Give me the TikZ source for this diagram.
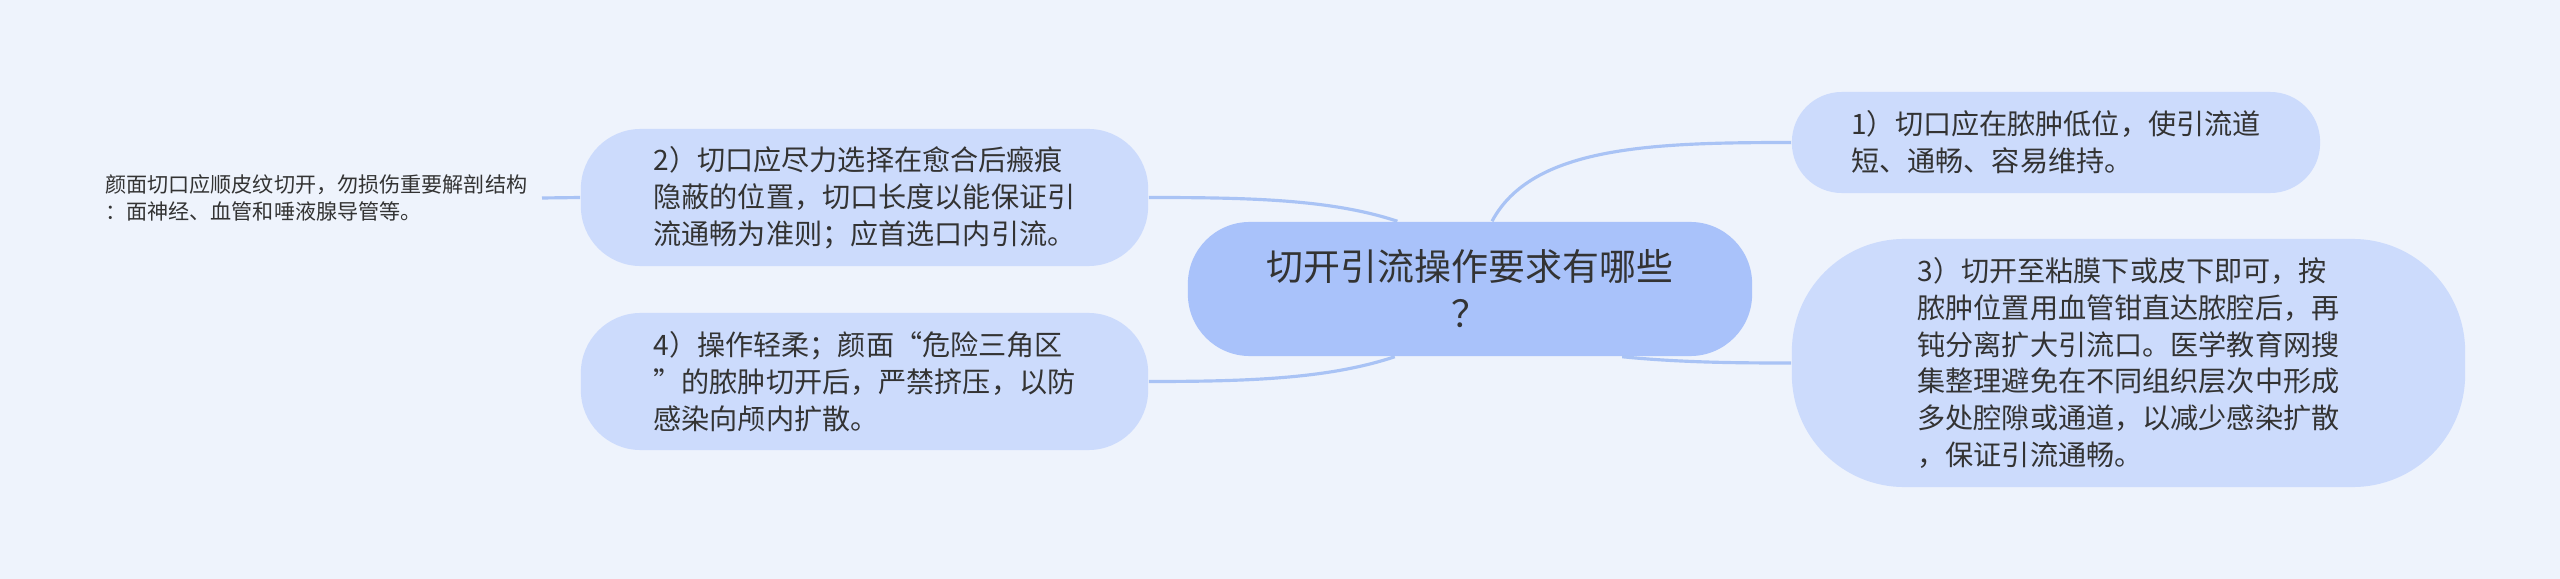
\documentclass[tikz,border=0pt]{standalone}
\usepackage{fontspec}
\usepackage{tikz}
\usetikzlibrary{calc}
\newfontfamily\cjk{Noto Sans CJK SC}
\definecolor{bgblue}{HTML}{EEF3FC}
\definecolor{topicblue}{HTML}{CCDBFC}
\definecolor{rootblue}{HTML}{A9C2FA}
\definecolor{linkblue}{HTML}{A9C3F5}
\definecolor{textgray}{HTML}{333333}
\begin{document}
\begin{tikzpicture}[x=0.01cm,y=-0.01cm,
    topic/.style={fill=topicblue,inner sep=0pt,align=left,text=textgray,
      font=\cjk\fontsize{8pt}{10.5pt}\selectfont},
    root/.style={fill=rootblue,inner sep=0pt,align=center,text=textgray,
      rounded corners=17.6pt,
      font=\cjk\fontsize{10.5pt}{13.4pt}\selectfont},
    leaf/.style={inner xsep=4pt,inner ysep=0pt,align=left,text=textgray,
      font=\cjk\fontsize{6pt}{7.7pt}\selectfont},
    link/.style={draw=linkblue,line width=0.9pt}]
			\def\px{0.2845pt}
			\fill[bgblue] (0,0) rectangle (2560,579);
			\useasboundingbox (0,0) rectangle (2560,579);
			% root
			\node[root,minimum width=564*\px,minimum height=134*\px] (ctr) at (1470,289)
				{切开引流操作要求有哪些\\？};
			% topics
			\node[topic,minimum width=528*\px,minimum height=101*\px,rounded corners=14.2pt] (tA) at (2056,142.5)
				{1）切口应在脓肿低位，使引流道\\短、通畅、容易维持。};
			\node[topic,minimum width=673*\px,minimum height=248*\px,rounded corners=32pt] (tC) at (2128.5,363)
				{3）切开至粘膜下或皮下即可，按\\脓肿位置用血管钳直达脓腔后，再\\钝分离扩大引流口。医学教育网搜\\集整理避免在不同组织层次中形成\\多处腔隙或通道，以减少感染扩散\\，保证引流通畅。};
			\node[topic,minimum width=567*\px,minimum height=137*\px,rounded corners=17pt] (tB) at (864.5,197.5)
				{2）切口应尽力选择在愈合后瘢痕\\隐蔽的位置，切口长度以能保证引\\流通畅为准则；应首选口内引流。};
			\node[topic,minimum width=567*\px,minimum height=137*\px,rounded corners=17pt] (tD) at (864.5,381.5)
				{4）操作轻柔；颜面“危险三角区\\”的脓肿切开后，严禁挤压，以防\\感染向颅内扩散。};
			% leaf
			\node[leaf,anchor=east] (lB) at (542,198)
				{颜面切口应顺皮纹切开，勿损伤重要解剖结构\\：面神经、血管和唾液腺导管等。};
			% links
			\draw[link] (ctr.72) .. controls ++(40,-75) and ++(-140,0) .. (tA.west);
			\draw[link] (ctr.-24.4) .. controls ++(60,6) and ++(-50,0) .. (tC.west);
			\draw[link] (ctr.137.8) .. controls ++(-66,-22) and ++(100,0) .. (tB.east);
			\draw[link] (ctr.222.2) .. controls ++(-66,22) and ++(100,0) .. (tD.east);
			\draw[link] (lB.east) -- (tB.west);
\end{tikzpicture}
\end{document}
